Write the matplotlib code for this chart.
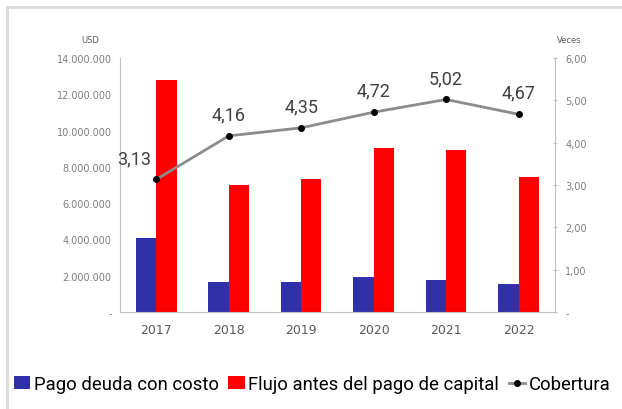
import numpy as np
import matplotlib.pyplot as plt
from matplotlib.patches import Rectangle
from matplotlib.ticker import FuncFormatter

anios = ["2017", "2018", "2019", "2020", "2021", "2022"]
pago_deuda = [4.08e6, 1.65e6, 1.65e6, 1.90e6, 1.75e6, 1.55e6]
flujo = [12.8e6, 7.0e6, 7.35e6, 9.05e6, 8.95e6, 7.45e6]
cobertura = [3.13, 4.16, 4.35, 4.72, 5.02, 4.67]

azul = "#3030a8"
rojo = "#ff0000"
gris = "#595959"
fam = ["Roboto", "DejaVu Sans"]

fig = plt.figure(figsize=(6.22, 4.10), dpi=100)
fig.patches.append(Rectangle((0.012, -0.02), 1.1, 1.0, transform=fig.transFigure,
                             fill=False, edgecolor="#d9d9d9", linewidth=2))
ax = fig.add_axes([0.193, 0.237, 0.699, 0.619])
x = np.arange(len(anios))
w = 0.28
ax.bar(x - w / 2, pago_deuda, w, color=azul, label="Pago deuda con costo")
ax.bar(x + w / 2, flujo, w, color=rojo, label="Flujo antes del pago de capital")
ax.set_ylim(0, 14e6)
ax.set_xlim(-0.5, len(anios) - 0.5)
ax.set_yticks(np.arange(0, 14.1e6, 2e6))


def fmt_usd(v, pos):
    if v == 0:
        return "-"
    return f"{int(v):,}".replace(",", ".")


ax.yaxis.set_major_formatter(FuncFormatter(fmt_usd))
ax.set_xticks(x)
ax.set_xticklabels(anios)
ax.tick_params(axis="x", length=0, labelsize=9, labelcolor=gris, pad=8)
ax.tick_params(axis="y", length=0, labelsize=7, labelcolor="#7f7f7f", pad=6)
for s in ["top", "right"]:
    ax.spines[s].set_visible(False)
ax.spines["left"].set_color("#bfbfbf")
ax.spines["bottom"].set_color("#bfbfbf")

ax2 = ax.twinx()
ax2.plot(x, cobertura, color="#8c8c8c", linewidth=2, marker="o", markersize=4,
         markerfacecolor="black", markeredgecolor="black", label="Cobertura")
ax2.set_ylim(0, 6)
ax2.set_yticks(np.arange(0, 6.1, 1))
ax2.yaxis.set_major_formatter(FuncFormatter(lambda v, p: "-" if v == 0 else f"{v:.2f}".replace(".", ",")))
ax2.tick_params(axis="y", length=3, direction="inout", color="#bfbfbf",
                labelsize=7, labelcolor="#7f7f7f", pad=6)
for s in ["top", "left", "bottom"]:
    ax2.spines[s].set_visible(False)
ax2.spines["right"].set_color("#bfbfbf")

for i, v in enumerate(cobertura):
    lbl = f"{v:.2f}".replace(".", ",")
    dx = -16 if i == 0 else 0
    ax2.annotate(lbl, (x[i], v), xytext=(dx, 9), textcoords="offset points",
                 ha="center", va="bottom", fontsize=13, color="#404040", family=fam)

fig.text(0.145, 0.895, "USD", fontsize=6, color=gris, ha="center")
fig.text(0.915, 0.895, "Veces", fontsize=6, color=gris, ha="center")

h1, l1 = ax.get_legend_handles_labels()
h2, l2 = ax2.get_legend_handles_labels()
fig.legend(h1 + h2, l1 + l2, loc="center left", bbox_to_anchor=(-0.005, 0.06), ncol=3,
           frameon=False, handlelength=0.9, handletextpad=0.2, columnspacing=0.5,
           prop={"family": fam, "size": 13.3})

fig.savefig("out.png", dpi=100)
